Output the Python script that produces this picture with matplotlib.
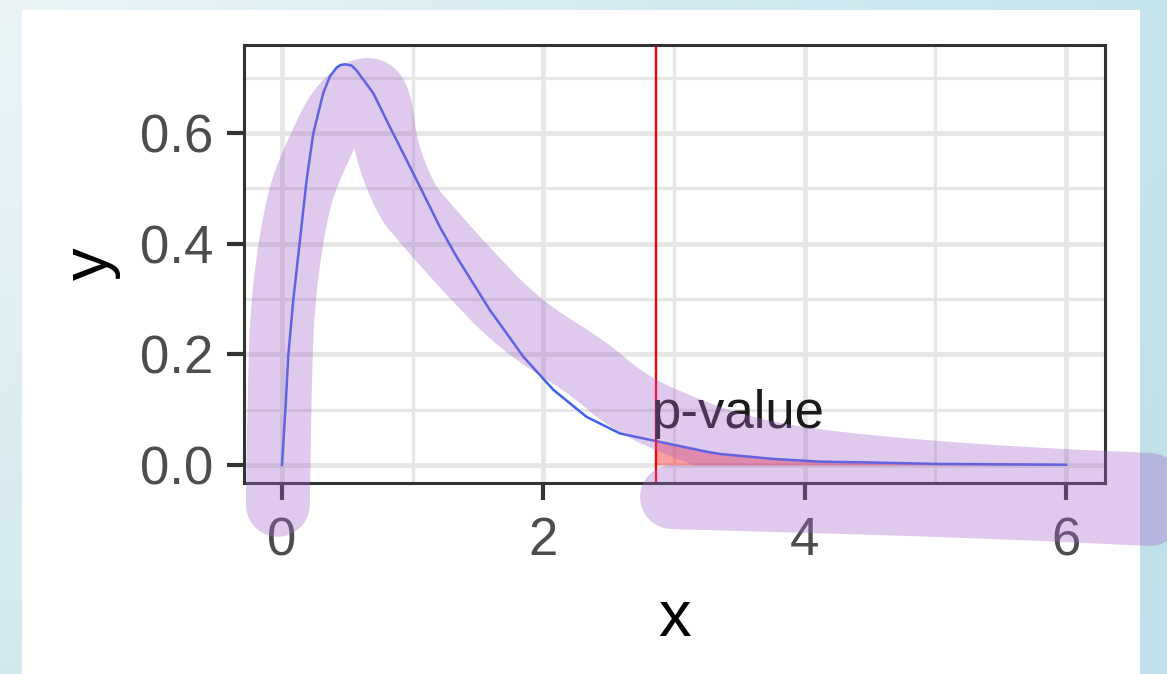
import numpy as np
import matplotlib
matplotlib.use("Agg")
import matplotlib.pyplot as plt
from matplotlib.patches import Rectangle

# ---- data ----
x_vals = [0.0, 0.028, 0.048, 0.087, 0.138, 0.189, 0.240, 0.316, 0.367, 0.418, 0.45,
          0.482, 0.533, 0.571, 0.699, 0.826, 0.954, 1.081, 1.209, 1.337, 1.464, 1.591,
          1.719, 1.846, 2.076, 2.331, 2.586, 2.867, 3.25, 3.35, 3.76, 4.12, 4.42,
          5.0, 6.0]
y_vals = [0.0, 0.105, 0.196, 0.298, 0.406, 0.515, 0.599, 0.672, 0.702, 0.718, 0.723,
          0.724, 0.722, 0.713, 0.672, 0.611, 0.551, 0.491, 0.430, 0.376, 0.328, 0.280,
          0.238, 0.196, 0.136, 0.087, 0.057, 0.043, 0.024, 0.020, 0.011, 0.006, 0.005,
          0.002, 0.0005]
p_cut = 2.862
x_ticks = [0, 2, 4, 6]
y_ticks = [0.0, 0.2, 0.4, 0.6]
y_tick_labels = ["0.0", "0.2", "0.4", "0.6"]
annot_text = "p-value"

# highlighter strokes (hand-drawn decoration), in data units
hl_a_x = [-0.031, -0.019, 0.004, 0.119, 0.275, 0.444, 0.658, 0.750, 0.796, 0.949,
          1.071, 1.400, 1.821, 2.334, 2.586, 2.854, 3.504, 4.269, 5.493, 6.64]
hl_a_y = [-0.072, 0.117, 0.298, 0.479, 0.569, 0.650, 0.685, 0.660, 0.569, 0.479,
          0.444, 0.356, 0.253, 0.177, 0.126, 0.0885, 0.029, 0.0, -0.0235, -0.036]
hl_b_x = [2.984, 4.346, 5.493, 6.64]
hl_b_y = [-0.058, -0.067, -0.076, -0.0885]


def chaikin(px, py, n=3):
    p = np.column_stack([px, py])
    for _ in range(n):
        q = 0.75 * p[:-1] + 0.25 * p[1:]
        r = 0.25 * p[:-1] + 0.75 * p[1:]
        mid = np.empty((2 * len(q), 2))
        mid[0::2] = q
        mid[1::2] = r
        p = np.vstack([p[:1], mid, p[-1:]])
    return p[:, 0], p[:, 1]


plt.rcParams['font.family'] = ['Liberation Sans', 'DejaVu Sans']

W, H = 1167, 674
fig = plt.figure(figsize=(W / 100, H / 100), dpi=100)

# background gradient + white panel
bg = fig.add_axes([0, 0, 1, 1], zorder=-10)
bg.set_axis_off()
tl = np.array([234, 244, 247]) / 255
tr = np.array([198, 228, 236]) / 255
bl = np.array([212, 233, 239]) / 255
br = np.array([191, 224, 232]) / 255
u = np.linspace(0, 1, 200)[None, :, None]
v = np.linspace(0, 1, 120)[:, None, None]
grad = (1 - v) * ((1 - u) * tl + u * tr) + v * ((1 - u) * bl + u * br)
bg.imshow(grad, extent=[0, 1, 0, 1], aspect='auto', origin='upper')
bg.add_patch(Rectangle((22 / W, 0), (1140 - 22) / W, (H - 10) / H,
                       transform=bg.transAxes, facecolor='white', edgecolor='none'))
bg.set_xlim(0, 1)
bg.set_ylim(0, 1)

ax = fig.add_axes([244 / W, 1 - 483 / H, (1105 - 244) / W, (483 - 45) / H])
ax.set_facecolor('white')
ax.set_xlim(-0.29, 6.297)
ax.set_ylim(-0.0325, 0.759)

# grid
for xm in [1, 3, 5]:
    ax.axvline(xm, color='#e6e6e6', lw=2.3, zorder=0.5)
for ym in [0.1, 0.3, 0.5, 0.7]:
    ax.axhline(ym, color='#e6e6e6', lw=2.3, zorder=0.5)
for xm in x_ticks:
    ax.axvline(xm, color='#e6e6e6', lw=3.4, zorder=0.6)
for ym in y_ticks:
    ax.axhline(ym, color='#e6e6e6', lw=3.4, zorder=0.6)

xs = np.array(x_vals)
ys = np.array(y_vals)
mask = xs >= p_cut
fx = np.concatenate([[p_cut], xs[mask]])
fy = np.concatenate([[np.interp(p_cut, xs, ys)], ys[mask]])
ax.fill_between(fx, 0, fy, color='red', alpha=0.38, lw=0, zorder=2)
ax.plot(xs, ys, color='#3f62ee', lw=1.8, zorder=3)
ax.axvline(p_cut, color='#ff0000', lw=1.7, zorder=3)
ax.text(2.83, 0.067, annot_text, fontsize=38, color='#1a1a1a', ha='left',
        va='baseline', zorder=4)

ax.set_xticks(x_ticks)
ax.set_xticklabels([str(t) for t in x_ticks])
ax.set_yticks(y_ticks)
ax.set_yticklabels(y_tick_labels)
ax.tick_params(axis='both', length=12, width=3, color='#333333',
               labelsize=38, labelcolor='#4d4d4d', pad=10)
ax.tick_params(axis='x', pad=12)
for s in ax.spines.values():
    s.set_color('#333333')
    s.set_linewidth(2.2)
    s.set_zorder(5)
ax.set_xlabel('x', fontsize=47, color='black', labelpad=16)
ax.set_ylabel('y', fontsize=47, color='black', labelpad=14)

# highlighter (single path so overlaps don't double the alpha)
ax_s, ay_s = chaikin(hl_a_x, hl_a_y)
bx_s, by_s = chaikin(hl_b_x, hl_b_y)
hx = list(ax_s) + [np.nan] + list(bx_s)
hy = list(ay_s) + [np.nan] + list(by_s)
ax.plot(hx, hy, color=(164 / 255, 101 / 255, 201 / 255), alpha=0.35, lw=46,
        solid_capstyle='round', solid_joinstyle='round', clip_on=False, zorder=20)

fig.savefig('out.png', dpi=100)
